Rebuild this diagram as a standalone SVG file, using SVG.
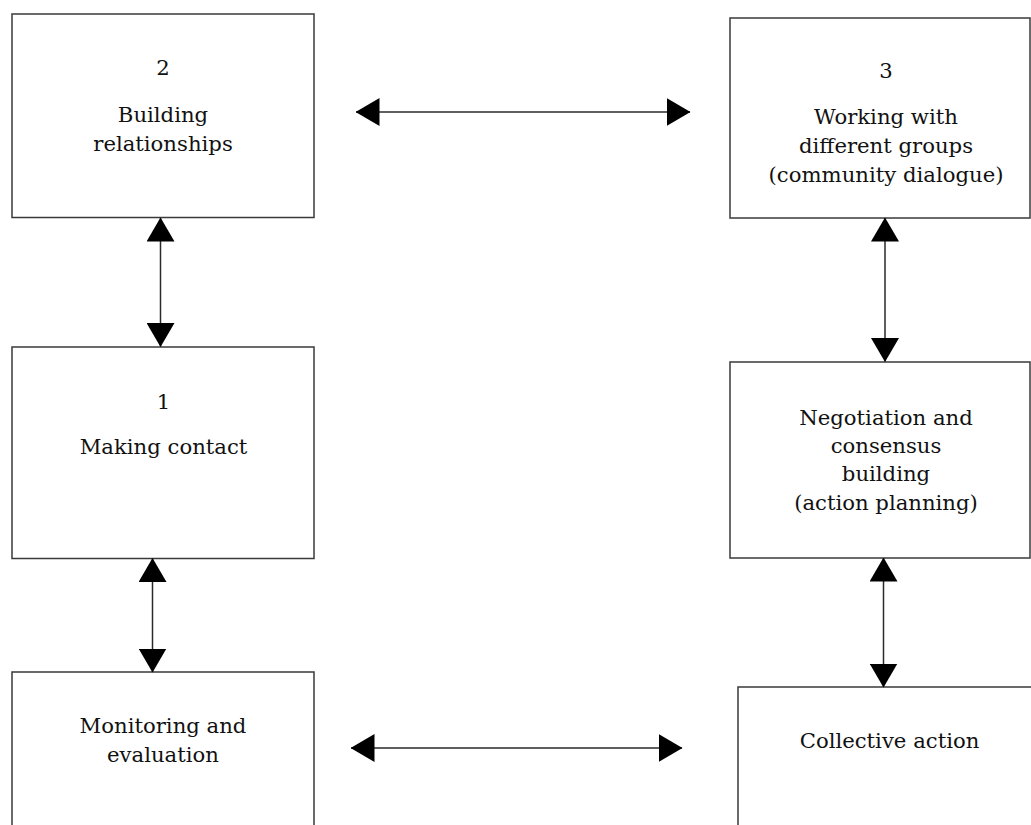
<svg xmlns="http://www.w3.org/2000/svg" width="1031" height="825" viewBox="0 0 1031 825">
<style>
.box{fill:#fff;stroke:#3a3a3a;stroke-width:1.5}
.lbl{font-family:"DejaVu Serif","Liberation Serif",serif;font-size:21.2px;fill:#111;text-anchor:middle}
.conn{stroke:#2a2a2a;stroke-width:1.5;fill:none;marker-start:url(#ah);marker-end:url(#ah)}
</style>
<defs>
<marker id="ah" markerUnits="userSpaceOnUse" markerWidth="24" markerHeight="28" refX="23.5" refY="14" orient="auto-start-reverse" viewBox="0 0 24 28">
<path d="M0,0 L24,14 L0,28 Z" fill="#000"/>
</marker>
</defs>
<rect width="1031" height="825" fill="#fff"/>
<g id="node-building">
<rect class="box" x="12" y="14" width="302" height="203.5"/>
<text class="lbl" x="163" y="75">2</text>
<text class="lbl" x="163" y="122">Building</text>
<text class="lbl" x="163" y="151">relationships</text>
</g>
<g id="node-working">
<rect class="box" x="730" y="18" width="300" height="200"/>
<text class="lbl" x="886" y="78">3</text>
<text class="lbl" x="886" y="124">Working with</text>
<text class="lbl" x="886" y="153">different groups</text>
<text class="lbl" x="886" y="182">(community dialogue)</text>
</g>
<g id="node-contact">
<rect class="box" x="12" y="347" width="302" height="211.5"/>
<text class="lbl" x="163.5" y="409">1</text>
<text class="lbl" x="163.5" y="454">Making contact</text>
</g>
<g id="node-negotiation">
<rect class="box" x="730" y="362" width="300" height="196"/>
<text class="lbl" x="886" y="425">Negotiation and</text>
<text class="lbl" x="886" y="453">consensus</text>
<text class="lbl" x="886" y="481">building</text>
<text class="lbl" x="886" y="510">(action planning)</text>
</g>
<g id="node-monitoring">
<path class="box" d="M12,840 L12,672 L314,672 L314,840"/>
<text class="lbl" x="163" y="733">Monitoring and</text>
<text class="lbl" x="163" y="762">evaluation</text>
</g>
<g id="node-collective">
<path class="box" d="M738,840 L738,687 L1040,687"/>
<text class="lbl" x="889.5" y="748">Collective action</text>
</g>
<g id="connectors">
<line class="conn" x1="356" y1="112" x2="690" y2="112"/>
<line class="conn" x1="160.5" y1="218" x2="160.5" y2="346.5"/>
<line class="conn" x1="152.5" y1="558.5" x2="152.5" y2="672"/>
<line class="conn" x1="351" y1="748" x2="682" y2="748"/>
<line class="conn" x1="885" y1="218" x2="885" y2="361.5"/>
<line class="conn" x1="883.5" y1="558" x2="883.5" y2="687"/>
</g>
</svg>
